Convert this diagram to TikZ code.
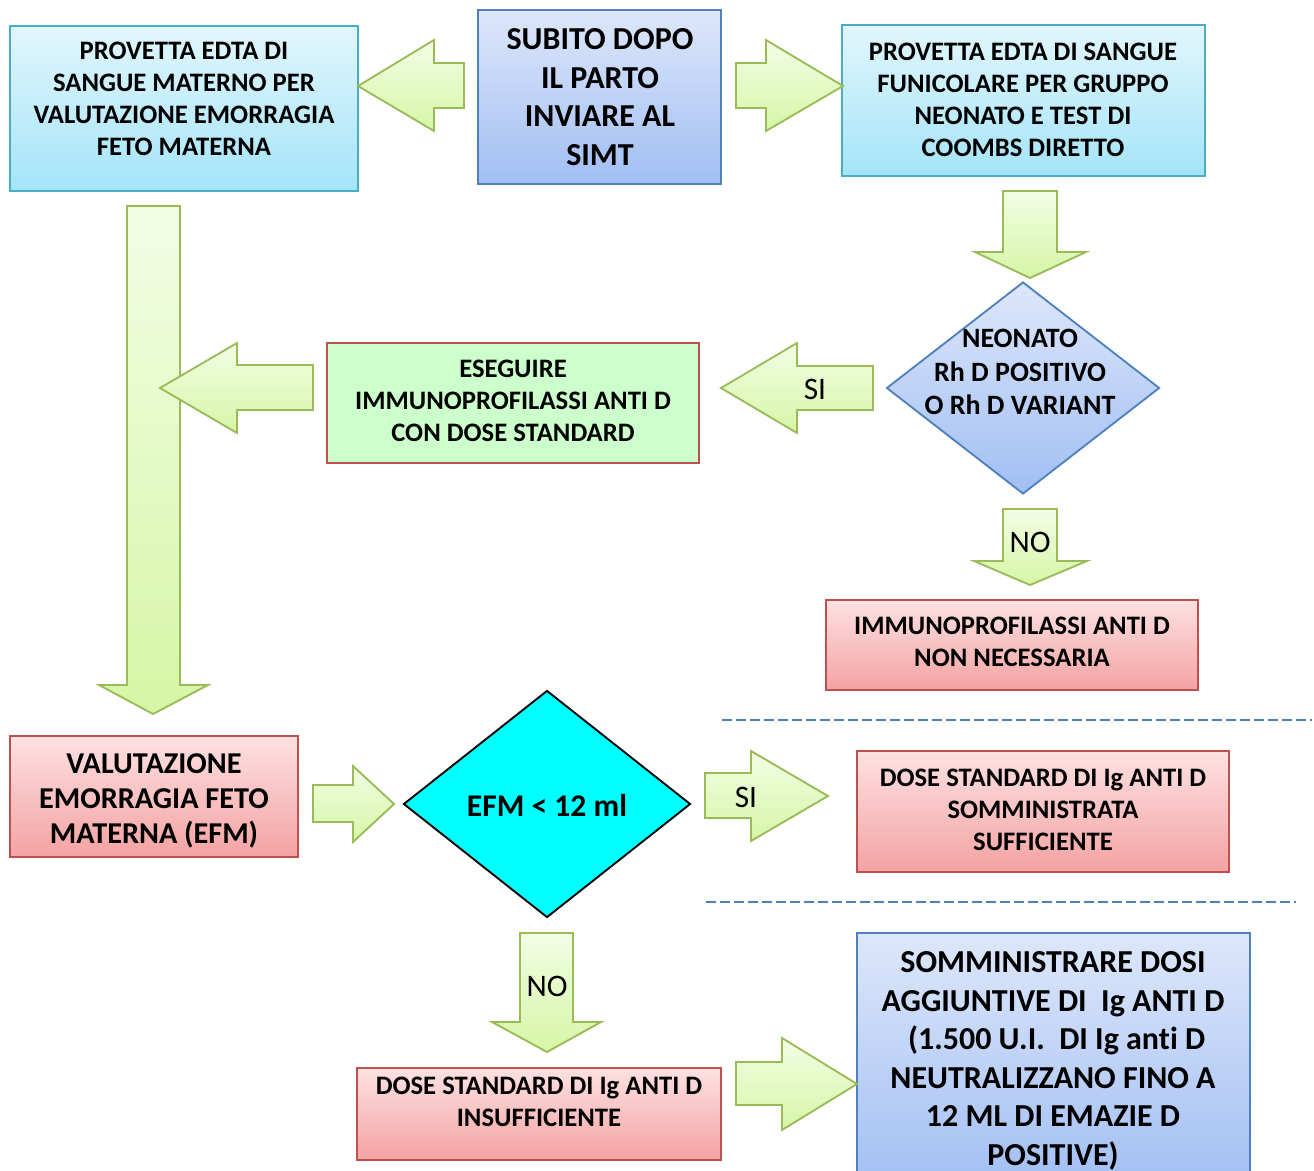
\documentclass[tikz,border=0pt]{standalone}
\usepackage{fontspec}
\setmainfont{Carlito}[Ligatures=NoCommon]
\usetikzlibrary{fit,shapes.geometric}
\definecolor{cyantop}{HTML}{E2F6FD}
\definecolor{cyanbot}{HTML}{A4E4F8}
\definecolor{cyanline}{HTML}{4BACC6}
\definecolor{bluetop}{HTML}{DDE7FA}
\definecolor{bluebot}{HTML}{A1BEF3}
\definecolor{blueline}{HTML}{4F81BD}
\definecolor{pinktop}{HTML}{FDE1E2}
\definecolor{pinkbot}{HTML}{F4A2A2}
\definecolor{redline}{HTML}{C0504D}
\definecolor{greenfill}{HTML}{CCFFCC}
\definecolor{arrtop}{HTML}{F3FDE5}
\definecolor{arrbot}{HTML}{D5F6A6}
\definecolor{arrline}{HTML}{9BBB59}
\definecolor{aqua}{HTML}{00FFFF}
\begin{document}
\begin{tikzpicture}[x=0.75pt,y=-0.75pt,
  box/.style={draw, line width=1.4pt, inner sep=0pt},
  cyanbox/.style={box, draw=cyanline, top color=cyantop, bottom color=cyanbot},
  bluebox/.style={box, draw=blueline, top color=bluetop, bottom color=bluebot},
  pinkbox/.style={box, draw=redline, top color=pinktop, bottom color=pinkbot},
  greenbox/.style={box, draw=redline, fill=greenfill},
  blockarr/.style={draw=arrline, line width=1.4pt, line join=miter, top color=arrtop, bottom color=arrbot},
  txt/.style={font=\bfseries\fontsize{20}{24}\selectfont, align=center, inner sep=0pt},
  bigtxt/.style={font=\bfseries\fontsize{24}{29}\selectfont, align=center, inner sep=0pt},
  midtxt/.style={font=\bfseries\fontsize{22.7}{26.3}\selectfont, align=center, inner sep=0pt},
  lbl/.style={font=\fontsize{23.5}{26}\selectfont, inner sep=0pt},
  sep/.style={draw=blueline, line width=2.2pt, dash pattern=on 7.5pt off 3pt},
]
\useasboundingbox (0,0) rectangle (1314,1171);
\clip (0,0) rectangle (1314,1171);

% boxes
\node[cyanbox, fit={(10,26) (358,191)}] (boxA) {};
\node[bluebox, fit={(478,10) (721,184)}] (boxB) {};
\node[cyanbox, fit={(842,25) (1205,176)}] (boxC) {};
\node[greenbox, fit={(327,343) (699,463)}] (boxE) {};
\node[shape=diamond, draw=blueline, line width=1.4pt, top color=bluetop, bottom color=bluebot,
      minimum width=204.75pt, minimum height=159pt, inner sep=0pt] (dia1) at (1023,388) {};
\node[pinkbox, fit={(826,600) (1198,690)}] (boxN) {};
\node[pinkbox, fit={(10,736) (298,857)}] (boxV) {};
\node[shape=diamond, draw=black, line width=1.4pt, fill=aqua,
      minimum width=215.25pt, minimum height=170.25pt, inner sep=0pt] (dia2) at (547,804) {};
\node[pinkbox, fit={(857,751) (1229,872)}] (boxS) {};
\node[pinkbox, fit={(357,1068) (721,1160)}] (boxI) {};
\node[bluebox, fit={(857,933) (1250,1190)}] (boxD) {};

% separators
\coordinate (s1a) at (722,720); \coordinate (s1b) at (1312,720);
\coordinate (s2a) at (706,902); \coordinate (s2b) at (1296,902);
\draw[sep] (s1a) -- (s1b);
\draw[sep] (s2a) -- (s2b);

% block arrows
\draw[blockarr] (464,63) -- (434,63) -- (434,40) -- (358,86) -- (434,131) -- (434,108) -- (464,108) -- cycle;
\draw[blockarr] (736,63) -- (766,63) -- (766,40) -- (843,86) -- (766,131) -- (766,108) -- (736,108) -- cycle;
\draw[blockarr] (1003,191) -- (1057,191) -- (1057,252) -- (1086,252) -- (1030,278) -- (975,252) -- (1003,252) -- cycle;
\draw[blockarr] (873,366) -- (797,366) -- (797,343) -- (721,388) -- (797,433) -- (797,410) -- (873,410) -- cycle;
\draw[blockarr] (127,206) -- (180,206) -- (180,685) -- (208,685) -- (153,714) -- (99,685) -- (127,685) -- cycle;
\draw[blockarr] (313,365) -- (237,365) -- (237,343) -- (160,388) -- (237,433) -- (237,410) -- (313,410) -- cycle;
\draw[blockarr] (1003,509) -- (1057,509) -- (1057,561) -- (1087,561) -- (1030,585) -- (974,561) -- (1003,561) -- cycle;
\draw[blockarr] (313,785) -- (353,785) -- (353,766) -- (394,804) -- (353,842) -- (353,822) -- (313,822) -- cycle;
\draw[blockarr] (705,773) -- (751,773) -- (751,751) -- (828,796) -- (751,841) -- (751,818) -- (705,818) -- cycle;
\draw[blockarr] (520,933) -- (573,933) -- (573,1022) -- (601,1022) -- (547,1052) -- (492,1022) -- (520,1022) -- cycle;
\draw[blockarr] (736,1062) -- (782,1062) -- (782,1038) -- (857,1084) -- (782,1130) -- (782,1105) -- (736,1105) -- cycle;

% texts
\node[txt] (tA) at (184,99) {PROVETTA EDTA DI\\SANGUE MATERNO PER\\VALUTAZIONE EMORRAGIA\\FETO MATERNA};
\node[bigtxt] (tB) at (600,97) {SUBITO DOPO\\IL PARTO\\INVIARE AL\\SIMT};
\node[txt] (tC) at (1023,100) {PROVETTA EDTA DI SANGUE\\FUNICOLARE PER GRUPPO\\NEONATO E TEST DI\\COOMBS DIRETTO};
\node[txt] (tE) at (513,401) {ESEGUIRE\\IMMUNOPROFILASSI ANTI D\\CON DOSE STANDARD};
\node[txt, font=\bfseries\fontsize{21}{25}\selectfont] (t1) at (1020,372) {NEONATO\\Rh D POSITIVO\\O Rh D VARIANT};
\node[lbl] (si1) at (815,389) {SI};
\node[lbl] (no1) at (1030,542) {NO};
\node[txt] (tN) at (1012,642) {IMMUNOPROFILASSI ANTI D\\NON NECESSARIA};
\node[midtxt] (tV) at (154,801) {VALUTAZIONE\\EMORRAGIA FETO\\MATERNA (EFM)};
\node[midtxt, font=\bfseries\fontsize{23.7}{26}\selectfont] (t2) at (547,805) {EFM < 12 ml};
\node[lbl] (si2) at (746,797) {SI};
\node[txt] (tS) at (1043,810) {DOSE STANDARD DI Ig ANTI D\\SOMMINISTRATA\\SUFFICIENTE};
\node[lbl] (no2) at (547,986) {NO};
\node[txt] (tI) at (539,1102) {DOSE STANDARD DI Ig ANTI D\\INSUFFICIENTE};
\node[bigtxt, font=\bfseries\fontsize{24}{28.9}\selectfont] (tD) at (1053,1061) {SOMMINISTRARE DOSI\\AGGIUNTIVE DI\ \ Ig ANTI D\\\ (1.500 U.I.\ \ DI Ig anti D\\NEUTRALIZZANO FINO A\\12 ML DI EMAZIE D\\POSITIVE)};
\end{tikzpicture}
\end{document}
